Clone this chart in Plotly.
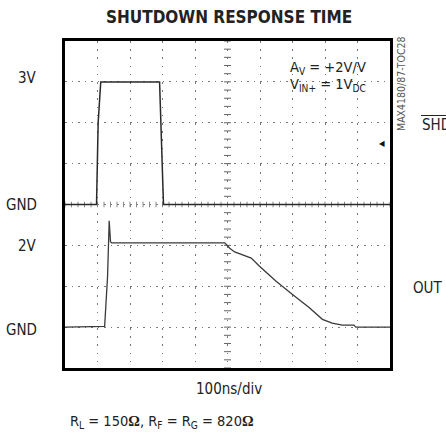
import numpy as np
import plotly.graph_objects as go

# ---- scope traces (time in ns, 100 ns/div, 1 V/div on both channels) ----
t_shdn = [0, 97, 102, 110, 291, 296, 303, 1000]
v_shdn = [0.0, 0.0, 2.0, 3.0, 3.0, 1.9, 0.0, 0.0]

t_out = [0, 122, 131, 134, 136, 140, 143.5, 491.6, 506.9, 522, 547.5, 573,
         598.5, 649.5, 700, 751, 792, 822, 853, 889, 895, 1000]
v_out = [0.0, 0.02, 1.25, 2.06, 2.6, 2.09, 2.06, 2.06, 1.93, 1.84, 1.77, 1.69,
         1.49, 1.12, 0.80, 0.48, 0.19, 0.10, 0.05, 0.05, 0.0, 0.0]

trig_level = 1.5          # SHDN trigger level marker (V)

x_range = [0, 1000]       # 10 div x 100 ns
shdn_range = [-4, 4]      # SHDN ground on the centre line
out_range = [-1, 7]       # OUT ground one division above the bottom

FONT = "Liberation Sans Narrow, DejaVu Sans Condensed, Arial Narrow, sans-serif"
W, H = 446, 434
L, R, T, B = 65, 56, 41, 66


def fx(px):
    return (px - L) / (W - L - R)


def fy(py):
    return (H - B - py) / (H - T - B)


fig = go.Figure()

# graticule tick marks on the centre cross
yt = np.arange(shdn_range[0], shdn_range[1] + 1e-9, 0.2)
fig.add_trace(go.Scatter(x=[500] * len(yt), y=yt, mode="markers",
                         marker=dict(symbol="line-ew", size=5,
                                     line=dict(width=1, color="#666")),
                         hoverinfo="skip", showlegend=False, yaxis="y"))
xt = np.arange(x_range[0], x_range[1] + 1e-9, 20)
fig.add_trace(go.Scatter(x=xt, y=[0] * len(xt), mode="markers",
                         marker=dict(symbol="line-ns", size=4,
                                     line=dict(width=1, color="#888")),
                         hoverinfo="skip", showlegend=False, yaxis="y"))

fig.add_trace(go.Scatter(x=t_shdn, y=v_shdn, mode="lines",
                         line=dict(color="#2a2a2a", width=1.5),
                         showlegend=False, yaxis="y"))
fig.add_trace(go.Scatter(x=t_out, y=v_out, mode="lines",
                         line=dict(color="#3a3a3a", width=1.3),
                         showlegend=False, yaxis="y2"))

axis_common = dict(showline=True, linecolor="black", linewidth=3, mirror=True,
                   ticks="", showticklabels=False, zeroline=False)

fig.update_layout(
    width=W, height=H,
    margin=dict(l=L, r=R, t=T, b=B, pad=0),
    paper_bgcolor="white", plot_bgcolor="white",
    font=dict(family=FONT, color="#222"),
    xaxis=dict(range=x_range, dtick=100, showgrid=True, gridcolor="#777",
               gridwidth=1, griddash="1.5px,6.7px", **axis_common),
    yaxis=dict(range=shdn_range, dtick=1, showgrid=True, gridcolor="#777",
               gridwidth=1, griddash="1.5px,5px", **axis_common),
    yaxis2=dict(range=out_range, overlaying="y", showgrid=False,
                showline=False, ticks="", showticklabels=False, zeroline=False),
)

ann = []


def text(x, y, s, size, xanchor="left", **kw):
    ann.append(dict(x=fx(x), y=fy(y), xref="paper", yref="paper", text=s,
                    showarrow=False, xanchor=xanchor, yanchor="middle",
                    font=dict(size=size, family=kw.pop("family", FONT),
                              color=kw.pop("color", "#222")), **kw))


text(228.5, 17, "<b>SHUTDOWN RESPONSE TIME</b>", 17, "center")
text(39, 78, "3V", 15, "right")
text(39, 205, "GND", 15, "right")
text(39, 246, "2V", 15, "right")
text(39, 330, "GND", 15, "right")
text(420, 125, "SHDN", 15, "left")
text(445, 288, "OUT", 15, "right")
text(288, 68, "A<sub>V</sub> = +2V/V", 14.5, "left")
text(288, 85, "V<sub>IN+</sub> = 1V<sub>DC</sub>", 14.5, "left")
text(401, 84, "MAX4180/87-TOC28", 10.5, "center", textangle=-90, color="#555")
text(228.5, 389, "100ns/div", 15, "center")
omega = "<span style='font-family:Liberation Serif'><b>Ω</b></span>"
text(68, 422, "R<sub>L</sub> = 150" + omega + ", R<sub>F</sub> = R<sub>G</sub> = 820" + omega,
     14.5, "left")

# trigger level arrow on the right edge
ann.append(dict(x=1, y=trig_level, xref="paper", yref="y", text="◀",
                showarrow=False, xanchor="right", yanchor="middle",
                xshift=-3, font=dict(size=8, color="#111")))

fig.update_layout(annotations=ann)

# overbar on SHDN
fig.add_shape(type="line", xref="paper", yref="paper",
              x0=fx(421), x1=fx(450), y0=fy(115.5), y1=fy(115.5),
              line=dict(color="#222", width=1))

fig.write_html("out.html")
